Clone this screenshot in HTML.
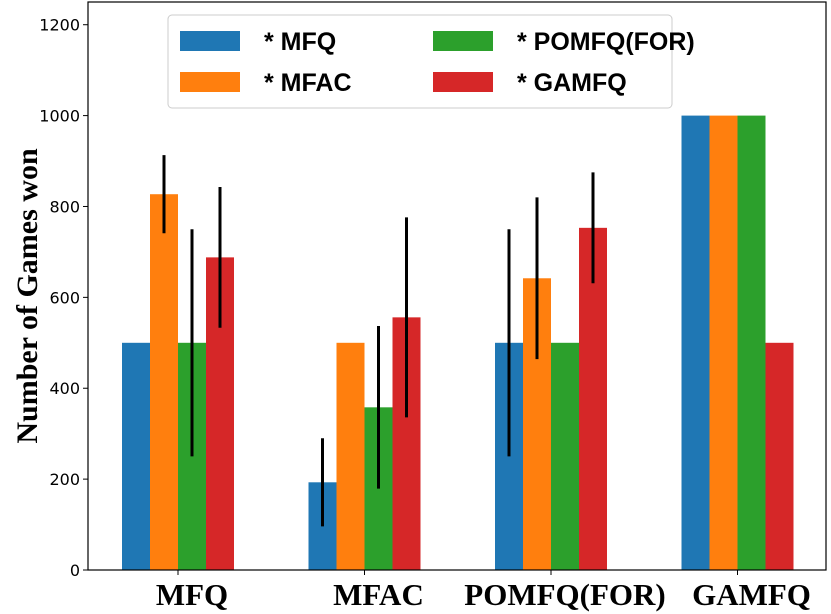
<!DOCTYPE html>
<html><head><meta charset="utf-8"><style>
body{margin:0;background:#fff;}
svg{display:block;}
</style></head><body>
<svg id="chart" width="831" height="614" xmlns="http://www.w3.org/2000/svg">
<g id="plot"></g>
</svg>
<script>
const categories = ["MFQ","MFAC","POMFQ(FOR)","GAMFQ"];
const seriesNames = ["* MFQ","* MFAC","* POMFQ(FOR)","* GAMFQ"];
const seriesColors = ["#1f77b4","#ff7f0e","#2ca02c","#d62728"];
const valsMFQ = [500,193,500,1000];
const valsMFAC = [827,500,642,1000];
const valsPOMFQ = [500,358,500,1000];
const valsGAMFQ = [688,556,753,500];
const errMFQ = [0,97,250,0];
const errMFAC = [86,0,178,0];
const errPOMFQ = [250,179,0,0];
const errGAMFQ = [155,220,122,0];
const yTicks = [0,200,400,600,800,1000,1200];

const series=[valsMFQ,valsMFAC,valsPOMFQ,valsGAMFQ];
const errs=[errMFQ,errMFAC,errPOMFQ,errGAMFQ];
const NS="http://www.w3.org/2000/svg";
const g=document.getElementById('plot');
const L=88,R=826,T=2,B=570,YMAX=1250;
const y=v=>B-(v/YMAX)*(B-T);
const gx=i=>178+i*186.5;
const bw=28;
function mk(tag,attrs,parent){const e=document.createElementNS(NS,tag);for(const k in attrs)e.setAttribute(k,attrs[k]);(parent||g).appendChild(e);return e;}
series.forEach((vals,s)=>{
  vals.forEach((v,i)=>{
    const x=gx(i)-2*bw+s*bw;
    const r=mk('rect',{x:x,y:y(v),width:bw,height:B-y(v),fill:seriesColors[s]});
    
    
  });
});
series.forEach((vals,s)=>{
  vals.forEach((v,i)=>{
    const e=errs[s][i]; if(!e) return;
    const cx=gx(i)-2*bw+s*bw+bw/2;
    const l=mk('line',{x1:cx,x2:cx,y1:y(v-e),y2:y(v+e),stroke:'#000','stroke-width':3});
    
    
  });
});
const fr=mk('rect',{x:L,y:T,width:R-L,height:B-T,fill:'none',stroke:'#000','stroke-width':1.2});


yTicks.forEach(t=>{
  mk('line',{x1:L-5,x2:L,y1:y(t),y2:y(t),stroke:'#000','stroke-width':1});
  const tx=mk('text',{x:L-8,y:y(t)+6,'text-anchor':'end','font-family':'DejaVu Sans, sans-serif','font-size':16,fill:'#000'});
  tx.textContent=t;
  
  
});
categories.forEach((c,i)=>{
  mk('line',{x1:gx(i),x2:gx(i),y1:B,y2:B+5,stroke:'#000','stroke-width':1});
  const tx=mk('text',{x:gx(i)+14,y:605,'text-anchor':'middle','font-family':'Liberation Serif, serif','font-weight':'bold','font-size':31,fill:'#000'});
  tx.textContent=c;
  
  
});
const yt=mk('text',{x:0,y:0,transform:'translate(37,296) rotate(-90)','text-anchor':'middle','font-family':'Liberation Serif, serif','font-weight':'bold','font-size':30,fill:'#000'});
yt.textContent='Number of Games won';


const lg=mk('g',{});


mk('rect',{x:168,y:15,width:504,height:93,rx:4,fill:'#fff',stroke:'#ccc','stroke-width':1},lg);
seriesNames.forEach((n,s)=>{
  const col=Math.floor(s/2)===0?0:1;
  const row=s%2;
  const x=180+col*253, yy=31+row*41;
  const e=mk('g',{},lg);
  
  
  mk('rect',{x:x,y:yy,width:60,height:20,fill:seriesColors[s]},e);
  const t=mk('text',{x:x+84,y:yy+19,'font-family':'Liberation Sans, sans-serif','font-weight':'bold','font-size':25,fill:'#000'},e);
  t.textContent=n;
});
</script>
</body></html>
